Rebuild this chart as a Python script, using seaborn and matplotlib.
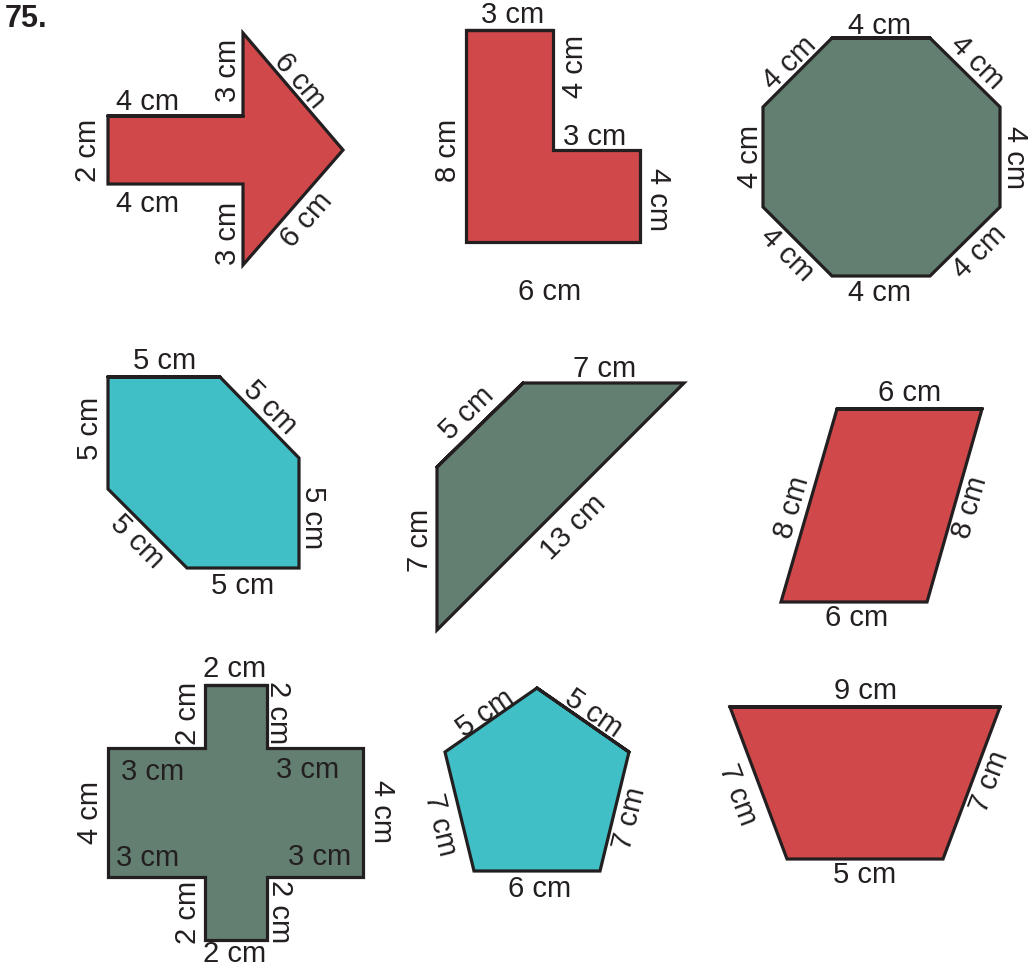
import matplotlib
matplotlib.use("Agg")
import matplotlib.pyplot as plt
import seaborn as sns

# shape outlines (vertices on the page grid, y grows downwards)
arrow_x = [108, 243, 243, 343, 243, 243, 108]
arrow_y = [116, 116, 33, 150, 265, 184, 184]

ell_x = [466, 553, 553, 640, 640, 466]
ell_y = [30, 30, 150, 150, 242, 242]

octagon_x = [832, 930, 1000, 1000, 930, 832, 763, 763]
octagon_y = [38, 38, 107, 207, 276, 276, 207, 107]

hexagon_x = [108, 220, 299, 299, 187, 108]
hexagon_y = [377, 377, 458, 568, 568, 489]

quad_x = [437, 523, 684, 437]
quad_y = [467, 383, 383, 630]

parallelogram_x = [837, 982, 927, 781]
parallelogram_y = [409, 409, 602, 602]

cross_x = [205, 267, 267, 363, 363, 267, 267, 205, 205, 108, 108, 205]
cross_y = [685, 685, 748, 748, 877, 877, 940, 940, 877, 877, 748, 748]

pentagon_x = [537, 629, 600, 474, 445]
pentagon_y = [688, 752, 871, 871, 752]

trapezoid_x = [730, 1000, 943, 787]
trapezoid_y = [707, 707, 859, 859]

RED = "#d0484a"
GREEN = "#627f71"
CYAN = "#40bfc6"
INK = "#231f20"

shapes = [
    (arrow_x, arrow_y, RED),
    (ell_x, ell_y, RED),
    (octagon_x, octagon_y, GREEN),
    (hexagon_x, hexagon_y, CYAN),
    (quad_x, quad_y, GREEN),
    (parallelogram_x, parallelogram_y, RED),
    (cross_x, cross_y, GREEN),
    (pentagon_x, pentagon_y, CYAN),
    (trapezoid_x, trapezoid_y, RED),
]

# side labels: text, x, y, rotation
labels = [
    ("4 cm", 148, 102, 0), ("2 cm", 88, 150, 90), ("4 cm", 148, 204, 0),
    ("3 cm", 228, 70, 90), ("3 cm", 228, 233, 90),
    ("6 cm", 300, 81, -49.5), ("6 cm", 307, 220, 49),

    ("3 cm", 513, 15, 0), ("4 cm", 575, 67, 90), ("3 cm", 595, 137, 0),
    ("4 cm", 658, 200, -90), ("8 cm", 448, 150, 90), ("6 cm", 550, 292, 0),

    ("4 cm", 880, 26, 0), ("4 cm", 790, 63, 45), ("4 cm", 977, 63, -45),
    ("4 cm", 750, 157, 90), ("4 cm", 1015, 157, -90),
    ("4 cm", 787, 255, -45), ("4 cm", 980, 252, 45), ("4 cm", 880, 293, 0),

    ("5 cm", 165, 361, 0), ("5 cm", 270, 408, -45), ("5 cm", 90, 428, 90),
    ("5 cm", 313, 518, -90), ("5 cm", 137, 542, -45), ("5 cm", 243, 586, 0),

    ("7 cm", 605, 369, 0), ("5 cm", 467, 413, 44.3), ("7 cm", 420, 540, 90),
    ("13 cm", 573, 527, 45),

    ("6 cm", 910, 393, 0), ("8 cm", 792, 507, 73.8), ("8 cm", 970, 507, 73.8),
    ("6 cm", 857, 618, 0),

    ("2 cm", 235, 669, 0), ("2 cm", 188, 713, 90), ("2 cm", 278, 713, -90),
    ("3 cm", 153, 772, 0), ("3 cm", 308, 770, 0),
    ("4 cm", 90, 812, 90), ("4 cm", 382, 812, -90),
    ("3 cm", 148, 858, 0), ("3 cm", 320, 857, 0),
    ("2 cm", 188, 912, 90), ("2 cm", 280, 912, -90), ("2 cm", 235, 954, 0),

    ("5 cm", 485, 713, 34.8), ("5 cm", 593, 713, -34.8),
    ("7 cm", 440, 825, -76.3), ("7 cm", 630, 818, 76.3), ("6 cm", 540, 889, 0),

    ("9 cm", 865, 691, 0), ("7 cm", 738, 795, -69.4), ("7 cm", 990, 782, 69.4),
    ("5 cm", 865, 875, 0),
]

sns.set_theme(style="white")
plt.rcParams["font.family"] = ["Liberation Sans", "DejaVu Sans"]
plt.rcParams["lines.solid_joinstyle"] = "miter"

fig = plt.figure(figsize=(10.3, 9.68), dpi=100)
ax = fig.add_axes([0, 0, 1, 1])

for xs, ys, color in shapes:
    ax.fill(xs, ys, color=color, linewidth=0, zorder=1)
    sns.lineplot(x=xs + xs[:2], y=ys + ys[:2], sort=False, estimator=None,
                 color=INK, linewidth=2.3, ax=ax, zorder=2)

for text, x, y, rot in labels:
    ax.text(x, y, text, rotation=rot, rotation_mode="anchor",
            ha="center", va="center", fontsize=21, color=INK, zorder=3)

ax.text(5, 19, "75.", ha="left", va="center", fontsize=22,
        fontweight="bold", color=INK)

ax.set_xlim(0, 1030)
ax.set_ylim(968, 0)
ax.axis("off")

plt.savefig("out.png", dpi=100, facecolor="white")
